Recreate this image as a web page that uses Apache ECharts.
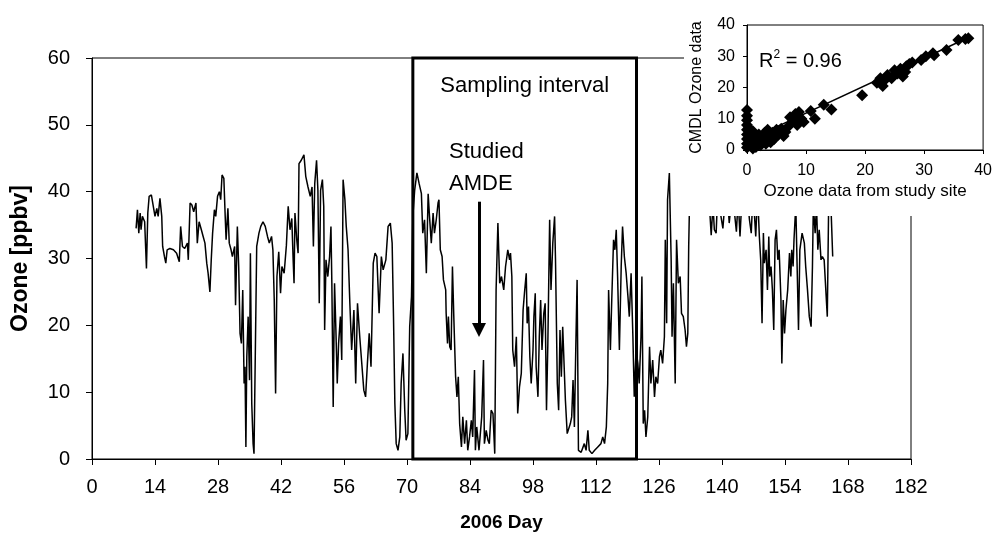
<!DOCTYPE html>
<html lang="en">
<head>
<meta charset="UTF-8">
<title>Ozone 2006</title>
<style>
  html, body { margin: 0; padding: 0; background: #fff; }
  #main { width: 995px; height: 538px; }
</style>
</head>
<body>
<div id="main"></div>
<script src="https://cdn.jsdelivr.net/npm/echarts@6/dist/echarts.min.js"></script>
<script>
// main series: day of 2006 and ozone (ppbv)
var days = [
  9.8,10.1,10.4,10.7,10.9,11.2,11.7,12.1,12.4,12.7,
  13.2,13.6,14.0,14.4,14.7,15.1,15.5,15.7,16.1,16.4,
  16.7,17.3,18.1,18.8,19.4,19.7,20.1,20.6,21.2,21.4,
  21.8,22.2,22.6,23.1,23.4,23.8,24.3,24.7,25.1,25.5,
  25.8,26.2,26.5,26.8,27.2,27.5,27.9,28.3,28.6,28.9,
  29.3,29.6,29.8,30.2,30.5,30.9,31.2,31.7,31.9,32.3,
  32.6,32.9,33.2,33.5,33.8,34.0,34.2,34.4,34.7,35.0,
  35.2,35.5,35.8,36.0,
  36.6,37.1,37.5,38.0,38.5,39.0,39.4,39.9,40.2,40.5,
  40.8,41.1,41.5,41.9,42.2,42.7,43.2,43.6,44.0,44.4,
  44.7,44.9,45.1,45.5,45.8,46.0,46.5,47.1,47.5,48.0,
  48.5,48.9,49.2,49.5,49.9,50.2,50.5,50.8,51.2,51.5,
  51.7,52.0,52.4,52.8,53.1,53.3,53.6,53.9,54.2,54.5,
  54.8,55.2,55.5,55.8,56.2,56.5,56.9,57.3,57.7,58.2,
  58.6,59.0,59.5,59.9,60.4,60.8,61.2,61.6,62.0,62.5,
  62.9,63.3,63.8,
  64.3,64.7,65.3,65.8,66.3,66.7,67.0,67.3,67.6,68.0,
  68.4,68.7,69.1,69.5,69.8,70.2,70.6,71.0,71.3,71.7,
  72.2,72.7,73.2,73.5,73.9,74.3,74.7,75.0,75.4,75.8,
  76.1,76.5,76.9,77.1,77.4,77.8,78.1,78.6,78.7,79.0,
  79.2,79.5,79.8,80.1,80.4,80.8,81.1,81.4,81.7,82.1,
  82.4,82.8,83.2,83.5,83.9,84.3,84.6,85.0,85.2,85.5,
  86.0,86.3,86.6,87.0,87.2,87.6,88.0,88.3,88.7,89.1,
  89.5,89.8,90.2,90.6,91.0,91.5,91.9,92.4,
  92.8,93.0,93.3,93.5,93.9,94.3,94.6,95.0,95.4,95.8,
  96.1,96.5,96.7,97.0,97.3,97.6,98.0,98.2,98.5,98.7,
  99.1,99.4,99.7,100.0,100.4,100.7,101.0,101.3,101.7,102.0,
  102.4,102.8,103.0,103.4,103.7,104.0,104.3,104.6,105.0,105.2,
  105.6,106.0,106.3,106.6,106.9,107.2,107.5,107.8,108.1,108.7,
  109.4,109.8,110.2,110.5,111.1,111.7,112.4,113.1,113.5,113.9,
  114.3,114.6,114.8,115.2,115.5,115.9,116.2,116.5,116.8,117.2,
  117.6,117.9,118.3,118.7,119.1,119.4,119.8,120.2,120.5,
  120.9,121.3,121.6,122.0,122.2,122.5,122.8,123.1,123.5,123.9,
  124.2,124.6,125.0,125.3,125.7,126.1,126.4,126.8,127.2,127.4,
  127.7,127.9,128.3,128.7,128.9,129.2,129.6,129.9,130.3,130.7,
  131.0,131.4,131.8,132.1,132.4,132.6,132.8,133.5,134.5,135.5,
  136.5,137.2,137.6,138.0,138.3,138.7,139.0,139.6,140.2,140.6,
  141.2,141.6,142.3,143.2,143.6,144.0,144.5,145.3,146.1,146.5,
  146.9,147.5,147.9,
  148.3,148.6,148.9,149.2,149.4,149.8,150.1,150.4,150.6,150.9,
  151.2,151.5,151.8,152.1,152.4,152.7,153.1,153.3,153.6,153.9,
  154.2,154.6,155.0,155.3,155.5,155.8,156.0,156.4,156.8,157.0,
  157.3,157.8,158.3,158.6,159.0,159.4,159.8,160.1,160.3,160.7,
  161.0,161.3,161.6,162.0,162.3,162.7,163.1,163.4,163.7,164.2,
  164.6
];
var ozone = [
  34.5,37.3,33.8,36.8,34.3,36.3,35.5,28.5,36.8,39.3,
  39.5,39.7,36.3,37.5,36.3,39.0,36.3,31.8,30.3,29.3,
  31.3,31.5,31.3,30.8,29.5,34.8,31.8,31.5,32.3,29.8,
  38.3,38.0,37.0,38.3,32.3,35.5,34.3,33.3,32.3,29.3,
  27.8,25.0,29.8,33.8,37.3,36.3,39.3,40.0,38.8,42.5,
  42.0,36.3,32.8,37.5,32.3,31.3,30.3,31.8,23.0,34.8,
  28.8,18.8,17.3,25.3,11.3,13.8,1.8,15.3,21.3,11.8,
  30.8,8.3,2.3,0.8,
  31.8,33.8,34.8,35.5,34.8,33.3,32.3,33.3,31.3,23.8,
  9.8,27.3,31.0,24.8,28.8,27.8,32.0,37.8,34.3,36.0,
  29.8,26.3,36.8,32.8,30.8,44.2,44.7,45.5,42.3,40.7,
  39.3,40.7,31.8,41.2,44.7,40.2,23.3,40.2,41.8,37.8,
  19.3,29.8,27.3,30.3,34.8,26.3,7.8,26.3,19.3,11.3,
  17.3,21.3,14.8,41.8,38.8,34.8,31.3,23.3,16.3,22.3,
  11.3,23.3,18.3,18.3,10.3,9.3,14.3,18.8,13.8,29.3,
  30.8,30.3,21.8,
  30.3,28.3,29.8,34.8,35.3,32.3,21.3,8.3,2.3,1.3,
  3.3,11.3,15.8,7.3,2.8,3.8,19.8,24.3,36.3,40.2,
  42.8,41.2,39.7,33.8,35.8,27.8,39.7,36.3,32.3,36.8,
  33.8,35.8,38.3,38.8,31.3,30.3,26.8,25.3,21.8,17.3,
  21.3,16.8,16.3,28.8,21.3,12.3,9.3,12.3,5.3,1.8,
  6.3,2.3,5.8,1.3,3.3,5.8,3.3,13.3,1.3,4.8,
  1.3,3.8,6.3,14.8,2.3,4.3,2.8,2.3,7.3,6.8,
  0.8,25.3,35.3,26.3,27.3,25.3,28.8,31.3,
  29.8,30.8,27.3,16.3,13.8,18.3,6.8,10.8,12.8,22.3,
  24.8,27.8,20.3,22.8,15.3,11.3,16.3,21.3,24.8,13.8,
  9.3,18.3,23.8,16.3,21.8,23.3,7.3,17.3,35.8,25.3,
  32.3,36.3,29.8,11.3,7.3,19.3,12.3,19.8,19.8,8.8,
  3.8,3.8,5.3,6.3,11.8,4.8,16.3,26.8,1.3,1.0,
  2.3,1.3,4.3,1.3,0.8,1.3,1.8,2.3,3.3,2.3,
  4.8,11.3,25.3,16.3,23.8,32.8,31.3,34.3,27.3,16.3,
  28.8,34.8,30.3,27.8,24.3,21.3,27.8,18.3,9.3,
  16.3,14.3,11.3,18.3,27.3,5.3,7.3,3.3,6.3,16.8,
  11.3,14.8,9.3,12.3,11.3,15.3,16.3,14.3,18.3,32.8,
  20.3,38.8,42.8,29.8,18.3,26.3,11.3,32.8,26.3,27.3,
  21.8,21.3,19.3,16.8,18.8,31.8,38.8,40.0,43.0,39.0,
  41.0,38.0,33.5,38.0,34.3,33.8,39.0,37.0,34.5,38.0,
  40.0,35.3,40.0,34.0,39.0,33.3,40.0,42.0,35.8,33.8,
  40.0,33.3,40.0,
  33.3,29.8,20.3,33.8,29.3,31.3,25.3,33.3,27.3,28.8,
  25.3,19.3,32.8,34.3,29.8,31.3,23.8,14.3,23.8,18.8,
  22.3,25.3,30.8,27.3,31.3,28.8,32.8,38.0,38.0,19.3,
  31.3,33.8,32.3,28.8,25.3,21.3,19.8,28.8,38.0,33.8,
  38.0,31.3,34.3,29.8,30.3,29.8,29.8,21.3,38.0,38.0,
  30.3
];

// sampling interval and the studied AMDE (days / ppbv)
var sampleStart = 71.3, sampleEnd = 121.0;
var amdeDay = 86.0, arrowFrom = 38.5, arrowTo = 19.3;

// inset: study site vs CMDL ozone
var siteOzone = [
  0,0,0,0,0,0,0,0,0,0.3,0.4,0.5,0.6,0.8,1,1,1.2,1.4,1.5,1.7,
  2,2,2.3,2.5,2.8,3,3.2,3.5,3.8,4,4.3,4.6,5,5.3,5.8,6.2,6.5,7,7.3,7.8,
  8.2,8.5,8.8,9.2,9.6,10.8,11.5,13,14.3,19.5,22,22.6,23,23.4,23.8,24.5,25,25.5,26,26.4,
  26.8,27,27.5,28,29.5,30.3,31.5,31.7,33.8,35.8,37,37.5
];
var cmdlOzone = [
  12.8,11,9.5,8,6.5,5,3.5,2,0.8,7,4,1.5,5.5,3,0.5,6,2,4.5,1,3.5,
  5,2.5,1.5,4,3,5.5,2,6.5,4,2.5,5.5,3.5,6.5,5,6.8,4.5,5.8,7.5,10.5,9.5,
  11.5,8,12.2,10,9,12.5,10,14.5,13,17.5,21.5,23,20.5,22.5,24,23,25.5,24.5,26,23.5,
  25,26.8,27.5,28,28.8,30,31,30.3,32,35.2,35.5,35.8
];
var fitX = [0, 37.5];
var fitY = [3.0, 36.0];

var FONT = '"Liberation Sans", Arial, sans-serif';

var mainData = days.map(function (d, i) { return [d, ozone[i]]; });
var scatterData = siteOzone.map(function (x, i) { return [x, cmdlOzone[i]]; });
var fitData = fitX.map(function (x, i) { return [x, fitY[i]]; });

var myChart = echarts.init(document.getElementById('main'));

var option = {
  animation: false,
  backgroundColor: '#fff',
  textStyle: { fontFamily: FONT, color: '#000' },
  title: {
    text: '{r|R}{s|2}{r| = 0.96}',
    left: 754,
    top: 44,
    z: 12,
    textStyle: {
      fontWeight: 'normal',
      rich: {
        r: { fontSize: 20, fontWeight: 'normal', fontFamily: FONT, color: '#000', lineHeight: 24 },
        s: { fontSize: 12, fontWeight: 'normal', fontFamily: FONT, color: '#000', lineHeight: 24, verticalAlign: 'top', padding: [0, 0, 10, 0] }
      }
    }
  },
  graphic: {
    elements: [{
      // white panel behind the inset
      type: 'rect',
      left: 684,
      top: 0,
      z: 5,
      silent: true,
      shape: { width: 311, height: 216 },
      style: { fill: '#fff' }
    }]
  },
  grid: [
    { left: 92, top: 58, right: 84, bottom: 79, show: true, borderColor: '#000', borderWidth: 1 },
    { left: 747, top: 25, width: 238, height: 125, show: true, borderColor: '#000', borderWidth: 1, backgroundColor: '#fff', z: 6 }
  ],
  xAxis: [{
    type: 'value', gridIndex: 0, min: 0, max: 182, interval: 14,
    name: '2006 Day', nameLocation: 'middle', nameGap: 54,
    nameTextStyle: { fontSize: 19, fontWeight: 'bold', color: '#000', fontFamily: FONT },
    axisLine: { onZero: false, lineStyle: { color: '#000', width: 1 } },
    axisTick: { length: 6, lineStyle: { color: '#000' } },
    axisLabel: { fontSize: 20, margin: 18, color: '#000', fontFamily: FONT },
    splitLine: { show: false }
  }, {
    type: 'value', gridIndex: 1, min: 0, max: 40, interval: 10, z: 8,
    name: 'Ozone data from study site', nameLocation: 'middle', nameGap: 33,
    nameTextStyle: { fontSize: 17, color: '#000', fontFamily: FONT },
    axisLine: { onZero: false, lineStyle: { color: '#000' } },
    axisTick: { length: 4, lineStyle: { color: '#000' } },
    axisLabel: { fontSize: 16, margin: 13, color: '#000', fontFamily: FONT },
    splitLine: { show: false }
  }],
  yAxis: [{
    type: 'value', gridIndex: 0, min: 0, max: 60, interval: 10,
    name: 'Ozone [ppbv]', nameLocation: 'middle', nameGap: 60,
    nameTextStyle: { fontSize: 23, fontWeight: 'bold', color: '#000', fontFamily: FONT },
    axisLine: { show: true, onZero: false, lineStyle: { color: '#000', width: 1 } },
    axisTick: { show: true, length: 6, lineStyle: { color: '#000' } },
    axisLabel: { fontSize: 20, margin: 22, color: '#000', fontFamily: FONT },
    splitLine: { show: false }
  }, {
    type: 'value', gridIndex: 1, min: 0, max: 40, interval: 10, z: 8,
    name: 'CMDL Ozone data', nameLocation: 'middle', nameGap: 42,
    nameTextStyle: { fontSize: 16, color: '#000', fontFamily: FONT },
    axisLine: { show: true, onZero: false, lineStyle: { color: '#000' } },
    axisTick: { show: true, length: 4, lineStyle: { color: '#000' } },
    axisLabel: { fontSize: 16, margin: 12, color: '#000', fontFamily: FONT },
    splitLine: { show: false }
  }],
  series: [{
    name: 'Ozone',
    type: 'line',
    xAxisIndex: 0, yAxisIndex: 0,
    data: mainData,
    symbol: 'none',
    z: 2,
    lineStyle: { color: '#000', width: 1.5 },
    markArea: {
      silent: true,
      itemStyle: { color: 'rgba(0,0,0,0)', borderColor: '#000', borderWidth: 3 },
      label: { show: true, position: 'insideTop', distance: 18, fontSize: 22, color: '#000', fontFamily: FONT },
      data: [[{ name: 'Sampling interval', coord: [sampleStart, 0] }, { coord: [sampleEnd, 60] }]]
    },
    markLine: {
      silent: true,
      symbol: ['none', 'triangle'],
      symbolSize: 14,
      lineStyle: { color: '#000', width: 3, type: 'solid' },
      label: { show: false },
      data: [[{ coord: [amdeDay, arrowFrom] }, { coord: [amdeDay, arrowTo] }]]
    },
    markPoint: {
      silent: true,
      symbol: 'circle',
      symbolSize: 0,
      label: {
        show: true, position: 'top', distance: 2, align: 'left', offset: [-30, 0],
        formatter: 'Studied\nAMDE', fontSize: 22, lineHeight: 32, color: '#000', fontFamily: FONT
      },
      data: [{ coord: [amdeDay, arrowFrom] }]
    }
  }, {
    name: 'CMDL vs site',
    type: 'scatter',
    xAxisIndex: 1, yAxisIndex: 1,
    data: scatterData,
    symbol: 'diamond',
    symbolSize: 12,
    z: 9,
    itemStyle: { color: '#000', opacity: 1 }
  }, {
    name: 'Fit',
    type: 'line',
    xAxisIndex: 1, yAxisIndex: 1,
    data: fitData,
    symbol: 'none',
    z: 9,
    lineStyle: { color: '#000', width: 1.5 }
  }]
};

myChart.setOption(option);
</script>
</body>
</html>
